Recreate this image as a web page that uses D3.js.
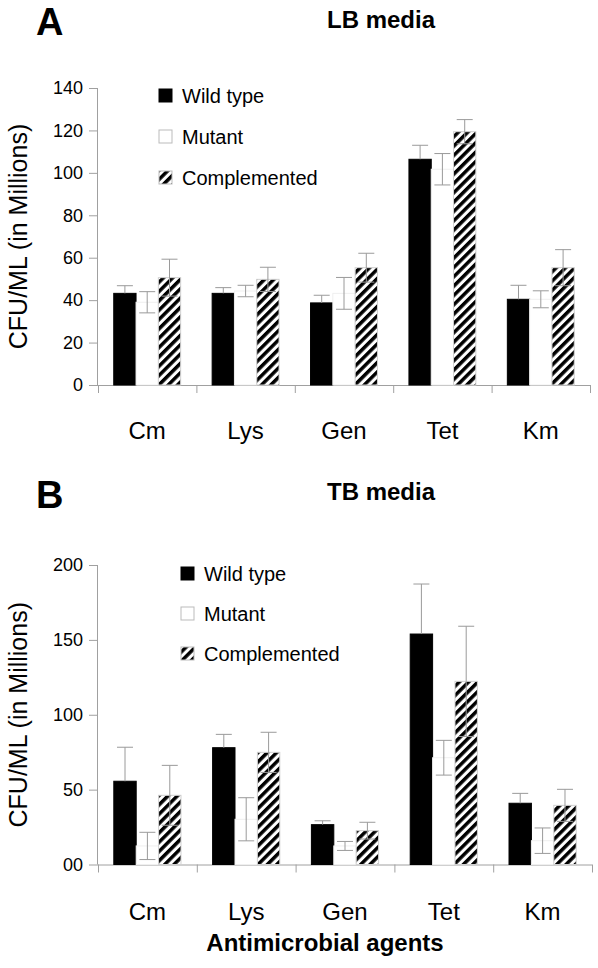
<!DOCTYPE html>
<html>
<head>
<meta charset="utf-8">
<script src="https://cdn.jsdelivr.net/npm/d3@7"></script>
<style>
  html, body { margin: 0; padding: 0; background: #fff; }
  svg { display: block; }
  text { font-family: "Liberation Sans", Arial, sans-serif; fill: #000; }
</style>
</head>
<body>
<script>
// ---------------- DATA ----------------
const categories = ["Cm", "Lys", "Gen", "Tet", "Km"];
const seriesNames = ["Wild type", "Mutant", "Complemented"];

// Panel A: LB media
const lbWild      = [43.2, 43.2, 38.7, 106.4, 40.4];
const lbWildErr   = [3.6, 2.7, 3.6, 6.6, 6.6];
const lbMutant    = [39.0, 44.3, 43.2, 101.7, 40.4];
const lbMutantErr = [5.0, 2.7, 7.5, 7.4, 4.0];
const lbComp      = [50.6, 49.8, 55.3, 119.4, 55.3];
const lbCompErr   = [8.7, 5.7, 6.8, 5.7, 8.5];
const lbTicks     = [0, 20, 40, 60, 80, 100, 120, 140];
const lbTickLabels = ["0", "20", "40", "60", "80", "100", "120", "140"];

// Panel B: TB media
const tbWild      = [55.6, 78.0, 26.6, 153.9, 40.9];
const tbWildErr   = [22.7, 8.9, 2.6, 33.4, 6.6];
const tbMutant    = [12.4, 30.2, 12.4, 71.3, 15.9];
const tbMutantErr = [9.1, 14.4, 3.0, 11.6, 8.5];
const tbComp      = [46.2, 74.9, 22.6, 122.3, 39.5];
const tbCompErr   = [20.0, 13.4, 5.6, 36.8, 10.7];
const tbTicks     = [0, 50, 100, 150, 200];
const tbTickLabels = ["00", "50", "100", "150", "200"];

const yTitle = "CFU/ML (in Millions)";
const xTitle = "Antimicrobial agents";

// ---------------- DRAW ----------------
const W = 598, H = 968;
const svg = d3.select("body").append("svg").attr("width", W).attr("height", H);

const defs = svg.append("defs");
const pat = defs.append("pattern")
  .attr("id", "hatch")
  .attr("patternUnits", "userSpaceOnUse")
  .attr("width", 6.6).attr("height", 6.6)
  .attr("patternTransform", "rotate(45)");
pat.append("rect").attr("width", 6.6).attr("height", 6.6).attr("fill", "#fff");
pat.append("rect").attr("width", 3.5).attr("height", 6.6).attr("fill", "#000");

const AXIS = "#a0a0a0";
const ERR = "#9a9a9a";
const fills = ["#000", "#fff", "url(#hatch)"];
const strokes = ["#000", "#efefef", "#d0d0d0"];

function panel(cfg) {
  const g = svg.append("g");
  const x = d3.scaleBand().domain(categories).range([cfg.x0, cfg.x1]).paddingInner(0).paddingOuter(0);
  const xs = d3.scaleBand().domain(seriesNames)
    .range([x.bandwidth() * 0.16, x.bandwidth() * 0.84]).padding(0);
  const y = d3.scaleLinear().domain([0, cfg.ymax]).range([cfg.y0, cfg.ytop]);

  // Y axis
  const yAxis = d3.axisLeft(y).tickValues(cfg.ticks)
    .tickFormat((d, i) => cfg.tickLabels[i]).tickSize(9).tickPadding(6);
  const ya = g.append("g").attr("transform", `translate(${cfg.x0},0)`).call(yAxis);
  ya.select(".domain").attr("stroke", AXIS).attr("d", `M-0.5,${cfg.ytop}V${cfg.y0}`);
  ya.selectAll(".tick line").attr("stroke", AXIS);
  ya.selectAll(".tick text").attr("font-size", 18).attr("font-family", "Liberation Sans, Arial, sans-serif").attr("fill", "#000");

  // X axis line with boundary ticks
  const bounds = categories.map(c => x(c)).concat([cfg.x1]);
  g.append("line").attr("x1", cfg.x0).attr("x2", cfg.x1).attr("y1", cfg.y0 + 0.5).attr("y2", cfg.y0 + 0.5).attr("stroke", AXIS);
  g.selectAll(".xt").data(bounds).join("line")
    .attr("x1", d => d + 0.5).attr("x2", d => d + 0.5)
    .attr("y1", cfg.y0).attr("y2", cfg.y0 + 8).attr("stroke", AXIS);

  // Bars
  cfg.series.forEach((s, si) => {
    const name = seriesNames[si];
    g.selectAll(".bar" + si).data(categories).join("rect")
      .attr("x", c => x(c) + xs(name))
      .attr("y", (c, i) => y(s.v[i]))
      .attr("width", xs.bandwidth())
      .attr("height", (c, i) => cfg.y0 - y(s.v[i]))
      .attr("fill", fills[si])
      .attr("stroke", strokes[si]).attr("stroke-width", 1);
  });

  // Error bars
  cfg.series.forEach((s, si) => {
    const name = seriesNames[si];
    categories.forEach((c, i) => {
      const cx = x(c) + xs(name) + xs.bandwidth() / 2;
      const hi = y(s.v[i] + s.e[i]);
      const lo = si === 0 ? y(s.v[i]) : y(Math.max(0, s.v[i] - s.e[i]));
      g.append("line").attr("x1", cx).attr("x2", cx).attr("y1", hi).attr("y2", lo).attr("stroke", ERR);
      g.append("line").attr("x1", cx - 8).attr("x2", cx + 8).attr("y1", hi).attr("y2", hi).attr("stroke", ERR);
      if (si !== 0) {
        g.append("line").attr("x1", cx - 8).attr("x2", cx + 8).attr("y1", lo).attr("y2", lo).attr("stroke", ERR);
      }
    });
  });

  // Category labels
  g.selectAll(".cl").data(categories).join("text")
    .attr("x", c => x(c) + x.bandwidth() / 2)
    .attr("y", cfg.catY)
    .attr("text-anchor", "middle").attr("font-size", 24).text(c => c);

  // Y title
  g.append("text")
    .attr("transform", `translate(${cfg.yTitleX},${(cfg.y0 + cfg.ytop) / 2}) rotate(-90)`)
    .attr("text-anchor", "middle").attr("font-size", 25).text(yTitle);

  // Panel letter & title
  g.append("text").attr("x", 36).attr("y", cfg.letterY).attr("font-size", 38).attr("font-weight", "bold").text(cfg.letter);
  g.append("text").attr("x", 381).attr("y", cfg.titleY).attr("text-anchor", "middle")
    .attr("font-size", 24).attr("font-weight", "bold").text(cfg.title);

  // Legend
  seriesNames.forEach((n, i) => {
    const ly = cfg.legY + i * cfg.legStep;
    g.append("rect").attr("x", cfg.legX).attr("y", ly).attr("width", 13).attr("height", 13)
      .attr("fill", fills[i]).attr("stroke", i === 0 ? "#000" : "#bbb");
    g.append("text").attr("x", cfg.legX + 23).attr("y", ly + 13.5).attr("font-size", 20).text(n);
  });
}

panel({
  x0: 98, x1: 590, y0: 385, ytop: 88, ymax: 140,
  ticks: lbTicks, tickLabels: lbTickLabels,
  series: [{v: lbWild, e: lbWildErr}, {v: lbMutant, e: lbMutantErr}, {v: lbComp, e: lbCompErr}],
  catY: 439, yTitleX: 27, letter: "A", letterY: 35, title: "LB media", titleY: 28,
  legX: 159, legY: 89, legStep: 41
});

panel({
  x0: 98, x1: 592, y0: 864.5, ytop: 565, ymax: 200,
  ticks: tbTicks, tickLabels: tbTickLabels,
  series: [{v: tbWild, e: tbWildErr}, {v: tbMutant, e: tbMutantErr}, {v: tbComp, e: tbCompErr}],
  catY: 920, yTitleX: 27, letter: "B", letterY: 508, title: "TB media", titleY: 500,
  legX: 181, legY: 567, legStep: 40
});

svg.append("text").attr("x", 325).attr("y", 951).attr("text-anchor", "middle")
  .attr("font-size", 24).attr("font-weight", "bold").text(xTitle);
</script>
</body>
</html>
